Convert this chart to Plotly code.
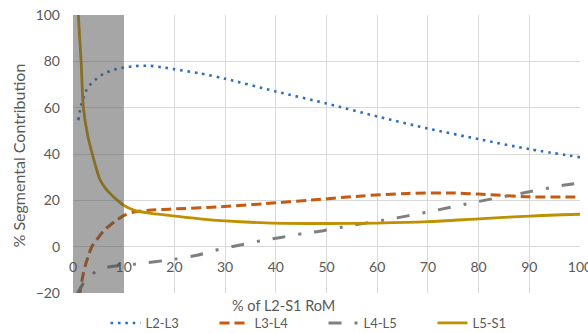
import plotly.graph_objects as go

# --- data ---
l23_x = [1.05, 1.6, 2.6, 3.5, 4.7, 6, 7.3, 8.6, 10, 12, 15, 18, 20, 25, 30, 40, 50, 60, 70, 80, 90, 100]
l23_y = [54.6, 61.0, 67.4, 70.2, 72.6, 74.6, 75.8, 76.7, 77.3, 77.9, 78.1, 77.3, 76.6, 74.8, 72.5, 67.0, 61.8, 56.2, 51.0, 46.4, 42.1, 38.6]

l34_x = [1.0, 1.4, 2.0, 2.5, 3.0, 3.7, 4.7, 6.0, 7.6, 8.6, 9.9, 12, 15, 19, 29, 38, 47, 57, 66, 74, 80, 90, 100]
l34_y = [-28.0, -19.5, -12.0, -7.5, -4.2, 0.0, 3.0, 6.7, 9.8, 11.4, 13.3, 15.0, 15.7, 16.2, 17.2, 18.6, 20.1, 21.9, 23.0, 23.2, 22.7, 21.5, 21.5]

l45_x = [0.8, 2, 3, 4.8, 7, 10, 12, 20, 24.5, 28, 32, 37, 41, 45.5, 49.4, 53.4, 62, 66, 70, 80, 90, 97, 100]
l45_y = [-20.5, -16.0, -13.7, -10.2, -8.8, -8.0, -7.6, -5.4, -3.7, -1.6, 0.3, 2.5, 4.0, 5.7, 6.9, 8.6, 11.7, 13.3, 15.0, 19.5, 23.7, 26.6, 27.4]

l5s1_x = [0.9, 1.05, 1.6, 2.05, 2.9, 3.8, 4.7, 5.3, 6.3, 7.3, 8.6, 9.9, 12, 15, 19, 25, 30, 38, 50, 60, 70, 80, 90, 100]
l5s1_y = [110, 100, 80, 60, 48, 40, 33, 29, 25.5, 23, 20.3, 18, 15.8, 14.5, 13.5, 12.0, 11.1, 10.3, 10.0, 10.2, 10.8, 12.0, 13.2, 14.0]

x_ticks = [0, 10, 20, 30, 40, 50, 60, 70, 80, 90, 100]
y_ticks = [-20, 0, 20, 40, 60, 80, 100]

series = [
    ("L2-L3", l23_x, l23_y, "#2E70B8", 2.6, "2.6px,4.8px"),
    ("L3-L4", l34_x, l34_y, "#C55A11", 3.0, "10px,5px"),
    ("L4-L5", l45_x, l45_y, "#7F7F7F", 3.0, "13px,13px,3px,13px"),
    ("L5-S1", l5s1_x, l5s1_y, "#BF9000", 2.8, "solid"),
]

FONT = "Lato, Liberation Sans, Arial, sans-serif"
GREY_TXT = "#595959"

fig = go.Figure()
for name, xs, ys, col, w, dash in series:
    fig.add_trace(go.Scatter(
        x=xs, y=ys, name=name, mode="lines",
        line=dict(color=col, width=w, dash=dash, shape="spline", smoothing=0.8),
    ))

# shaded region 0-10 %
fig.add_shape(type="rect", xref="x", yref="y", x0=0, x1=10, y0=-20, y1=100,
              fillcolor="rgba(77,77,77,0.5)", line=dict(width=0), layer="above")

fig.add_annotation(text="% Segmental Contribution", xref="paper", yref="paper",
                   x=(17.5 - 73) / 507, y=(293 - 156) / 278, textangle=-90,
                   xanchor="center", yanchor="middle", showarrow=False,
                   font=dict(family=FONT, size=16, color=GREY_TXT))
fig.add_annotation(text="% of L2-S1 RoM", xref="paper", yref="paper",
                   x=(283 - 73) / 507, y=(293 - 305) / 278,
                   xanchor="center", yanchor="middle", showarrow=False,
                   font=dict(family=FONT, size=14.5, color=GREY_TXT))

fig.update_layout(
    width=588, height=333,
    margin=dict(l=73, r=8, t=15, b=40, autoexpand=False),
    plot_bgcolor="white", paper_bgcolor="white",
    font=dict(family=FONT, color=GREY_TXT),
    xaxis=dict(range=[0, 100], tickvals=x_ticks, showgrid=True, gridcolor="#D9D9D9",
               zeroline=False, showline=False, anchor="free", position=20 / 120,
               ticks="", ticklabelstandoff=10, automargin=False, ticklabeloverflow="allow",
               tickfont=dict(family=FONT, size=14, color=GREY_TXT)),
    yaxis=dict(range=[-20, 100], tickvals=y_ticks, showgrid=True, gridcolor="#D9D9D9",
               zeroline=False, showline=False, ticks="", automargin=False,
               ticklabelstandoff=12,
               tickfont=dict(family=FONT, size=14, color=GREY_TXT)),
    legend=dict(orientation="h", x=(323.5 - 73) / 507, xanchor="center",
                y=(293 - 323) / 278, yanchor="middle",
                font=dict(family=FONT, size=13, color=GREY_TXT),
                entrywidth=64, entrywidthmode="pixels", bgcolor="rgba(0,0,0,0)"),
    showlegend=True,
)

fig.write_html("out.html", config={"displayModeBar": False},
               post_script="document.body.style.margin='0px';")
